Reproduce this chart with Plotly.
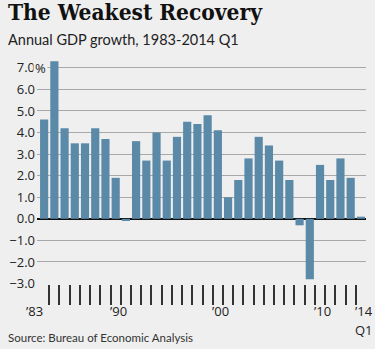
import plotly.graph_objects as go

years = list(range(1983, 2015))
growth = [4.6, 7.3, 4.2, 3.5, 3.5, 4.2, 3.7, 1.9, -0.1, 3.6, 2.7, 4.0, 2.7, 3.8, 4.5, 4.4,
          4.8, 4.1, 1.0, 1.8, 2.8, 3.8, 3.4, 2.7, 1.8, -0.3, -2.8, 2.5, 1.8, 2.8, 1.9, 0.1]
y_ticks = [-3, -2, -1, 0, 1, 2, 3, 4, 5, 6, 7]
y_ticktext = ["−3.0", "−2.0", "−1.0", "0.0", "1.0", "2.0", "3.0", "4.0", "5.0", "6.0", "7.0"]
x_label_years = [1983, 1990, 2000, 2010, 2014]
x_label_text = ["’83", "’90", "’00", "’10", "’14"]

W, H = 375, 349
L, R = 32, 366          # plot area left/right in px
T, B = 56.9, 284.3      # plot area top/bottom in px
BG = "#efefef"
FONT = "Lato, Roboto, sans-serif"
NUMFONT = "Open Sans, Roboto, sans-serif"


def px_x(p):
    return (p - L) / (R - L)


def px_y(p):
    return (B - p) / (B - T)


fig = go.Figure()
fig.add_trace(go.Bar(
    x=years, y=growth, width=0.8,
    marker=dict(color="#5b89a8", line=dict(width=0)),
    hoverinfo="skip",
))

annotations = []
# x labels
for yr, txt in zip(x_label_years, x_label_text):
    if yr == 1983:
        ax, anchor, sh = yr + 0.5, "right", -4
    else:
        ax, anchor, sh = yr - 0.5, "left", -3
    annotations.append(dict(x=ax, xref="x", y=px_y(311.7), yref="paper", text=txt,
                            xanchor=anchor, yanchor="middle", showarrow=False, xshift=sh,
                            font=dict(family=NUMFONT, size=13, color="#222")))
annotations.append(dict(x=2013.5, xref="x", y=px_y(330), yref="paper", text="Q1",
                        xanchor="left", yanchor="middle", showarrow=False, xshift=-3,
                        font=dict(family=NUMFONT, size=13, color="#222")))
# percent sign on top tick label
annotations.append(dict(x=px_x(27.5), xref="paper", y=7, yref="y", text="%",
                        xanchor="left", yanchor="middle", showarrow=False, bgcolor=BG,
                        font=dict(family=NUMFONT, size=13, color="#222"), borderpad=1))
# title / subtitle / source
annotations.append(dict(x=px_x(1), xref="paper", y=px_y(12.3), yref="paper",
                        text="<b>The Weakest Recovery</b>", xanchor="left", yanchor="middle",
                        showarrow=False,
                        font=dict(family="DejaVu Serif Condensed, DejaVu Serif", size=22.5, color="#111")))
annotations.append(dict(x=px_x(1), xref="paper", y=px_y(39.5), yref="paper",
                        text="Annual GDP growth, 1983-2014 Q1", xanchor="left", yanchor="middle",
                        showarrow=False, font=dict(family=FONT, size=14.5, color="#222")))
annotations.append(dict(x=px_x(1), xref="paper", y=px_y(337.5), yref="paper",
                        text="Source: Bureau of Economic Analysis", xanchor="left", yanchor="middle",
                        showarrow=False, font=dict(family=FONT, size=11.5, color="#333")))

fig.update_layout(
    width=W, height=H, autosize=False,
    margin=dict(l=L, r=W - R, t=T, b=H - B, pad=0),
    paper_bgcolor=BG, plot_bgcolor=BG,
    showlegend=False, bargap=0.2,
    annotations=annotations,
    xaxis=dict(range=[1982.3, 2014.5], showgrid=False, zeroline=False, showline=False,
               tickmode="array", tickvals=[y + 0.5 for y in years[:-1]],
               ticks="outside", ticklen=20, tickwidth=1.6, tickcolor="#333",
               showticklabels=False, fixedrange=True),
    yaxis=dict(range=[-3.02, 7.5], tickmode="array", tickvals=y_ticks, ticktext=y_ticktext,
               showgrid=True, gridcolor="#a8a8a8", gridwidth=1,
               zeroline=True, zerolinecolor="#111", zerolinewidth=2,
               showline=False, ticks="", ticklabelstandoff=1,
               tickfont=dict(family=NUMFONT, size=13, color="#222"), fixedrange=True),
)

fig.write_html("out.html")
